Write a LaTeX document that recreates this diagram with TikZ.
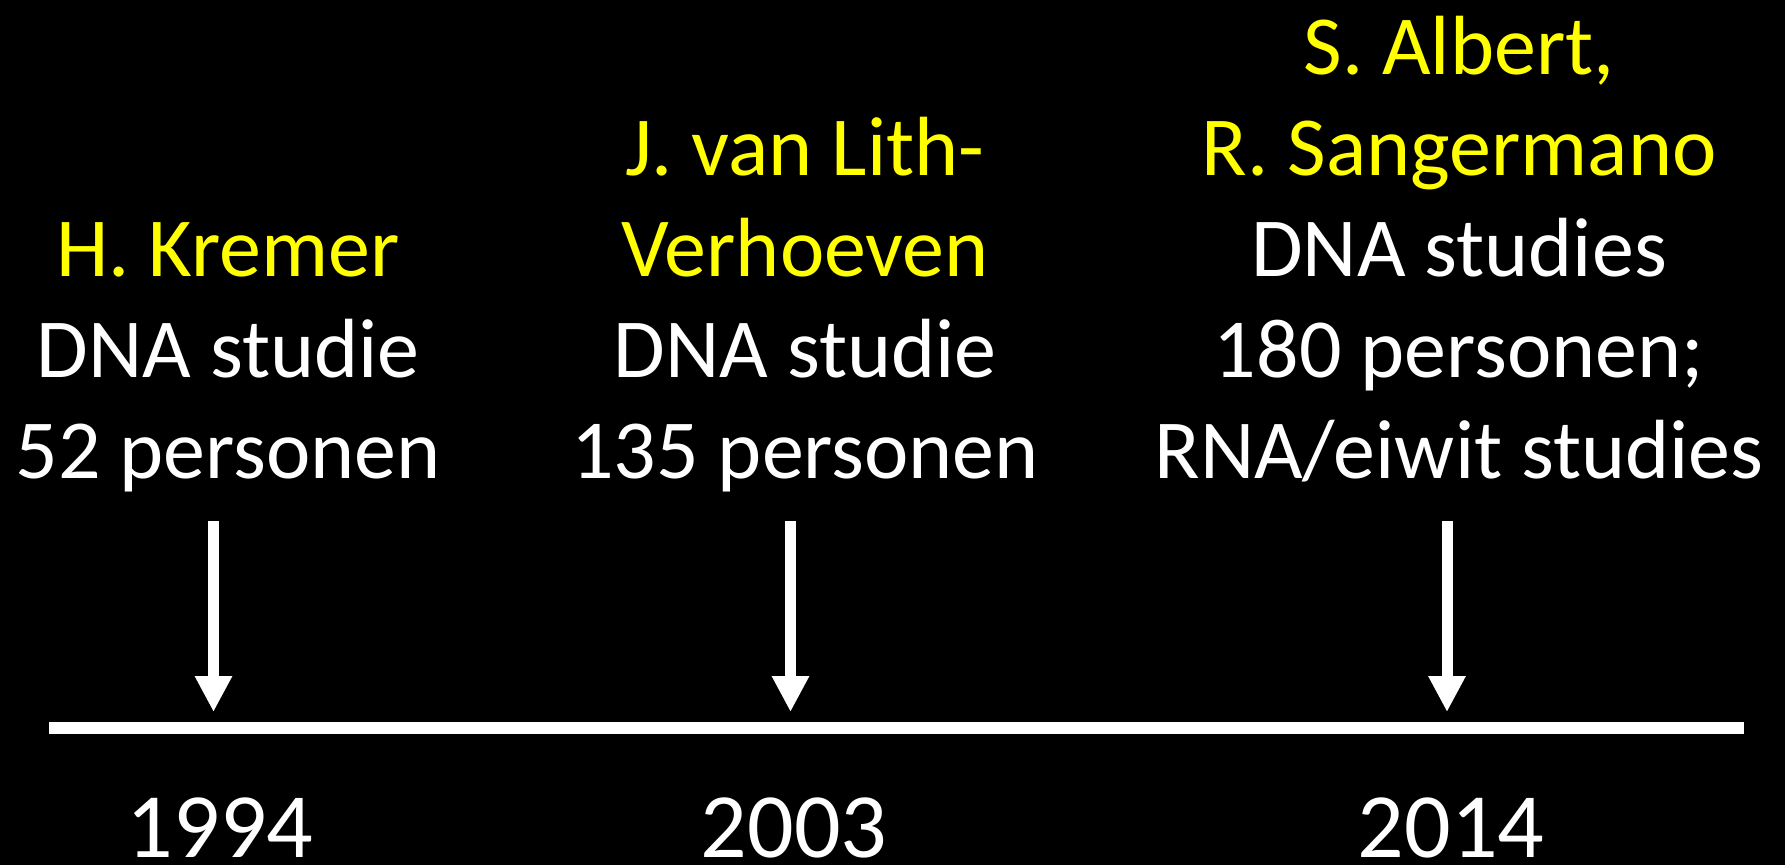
\documentclass[tikz,border=0pt]{standalone}
\usepackage{fontspec}
\setmainfont{Carlito}
\usetikzlibrary{arrows.meta}
\definecolor{hl}{RGB}{255,255,0}
\tikzset{
  txt/.style={anchor=base, inner sep=0pt, text=white, font=\fontsize{84}{101}\selectfont},
  who/.style={txt, text=hl},
  year/.style={anchor=base, inner sep=0pt, text depth=0pt, text=white, font=\fontsize{92}{110}\selectfont},
  pointer/.style={draw=white, line width=11pt, -{Triangle[width=35pt,length=36pt]}},
  axis/.style={draw=white, line width=12pt}
}
\begin{document}
\begin{tikzpicture}[x=1pt,y=-1pt]
\fill[black] (0,0) rectangle (1785,865);
\useasboundingbox (0,0) rectangle (1785,865);
% column 1
\node[who] (k1) at (228,276) {H. Kremer};
\node[txt] (k2) at (228,377) {DNA studie};
\node[txt] (k3) at (228,478) {52 personen};
% column 2
\node[who] (v1) at (805,175) {J. van Lith-};
\node[who] (v2) at (805,276) {Verhoeven};
\node[txt] (v3) at (805,377) {DNA studie};
\node[txt] (v4) at (805,478) {135 personen};
% column 3
\node[who] (s1) at (1459,74) {S. Albert,};
\node[who] (s2) at (1459,175) {R. Sangermano};
\node[txt] (s3) at (1459,276) {DNA studies};
\node[txt] (s4) at (1459,377) {180 personen;};
\node[txt] (s5) at (1459,478) {RNA/eiwit studies};
% axis
\coordinate (L1) at (49,728);
\coordinate (L2) at (1744,728);
\draw[axis] (L1) -- (L2);
% arrows
\coordinate (a1s) at (213.5,521); \coordinate (a1e) at (213.5,712);
\coordinate (a2s) at (790.5,521); \coordinate (a2e) at (790.5,712);
\coordinate (a3s) at (1447,521);  \coordinate (a3e) at (1447,712);
\draw[pointer] (a1s) -- (a1e);
\draw[pointer] (a2s) -- (a2e);
\draw[pointer] (a3s) -- (a3e);
% years
\node[year] (y1) at (220,857) {1994};
\node[year] (y2) at (794,857) {2003};
\node[year] (y3) at (1451,857) {2014};
\end{tikzpicture}
\end{document}
